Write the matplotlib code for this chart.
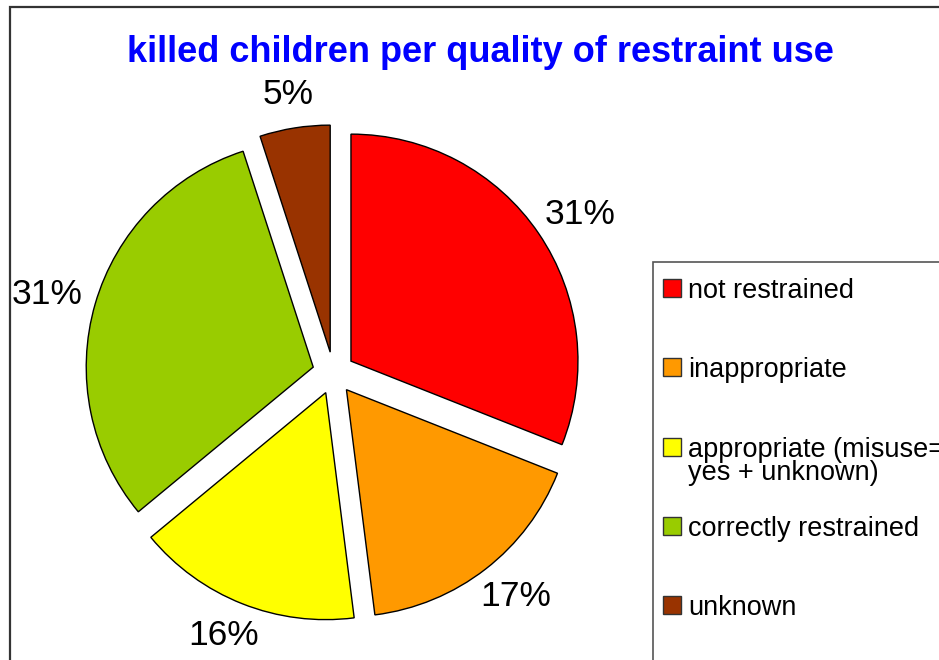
import matplotlib
matplotlib.use('Agg')
import matplotlib.pyplot as plt
from matplotlib.patches import Rectangle
import numpy as np

plt.rcParams['font.family'] = ['Liberation Sans', 'DejaVu Sans']

# data
categories = ['not restrained', 'inappropriate', 'appropriate (misuse=\nyes + unknown)',
              'correctly restrained', 'unknown']
shares = [31, 17, 16, 31, 5]
colors = ['#FF0000', '#FF9900', '#FFFF00', '#99CC00', '#993300']
title = 'killed children per quality of restraint use'

W, H = 939, 660
fig = plt.figure(figsize=(W / 100, H / 100), dpi=100)

# outer chart frame (runs off right/bottom edge)
fig.patches.append(Rectangle((10 / W, -0.2), 1.2, 1.2 - 6.5 / H,
                             transform=fig.transFigure, fill=False,
                             edgecolor='#333333', lw=1.6, zorder=0))

# pie axes: center ~ (333.5, 373) px, radius ~227 px
R = 227
half = 1.2 * R
cx, cy = 333.5, H - 373
ax = fig.add_axes([(cx - half) / W, (cy - half) / H, 2 * half / W, 2 * half / H])

wedges, texts, autotexts = ax.pie(
    shares, colors=colors, startangle=90, counterclock=False,
    explode=[0.093] * len(shares),
    autopct=lambda p: f'{p:.0f}%', pctdistance=1.107,
    wedgeprops=dict(edgecolor='black', linewidth=1.0),
    textprops=dict(fontsize=25.5, color='black'),
    radius=1.0, frame=False)
ax.set_xlim(-1.2, 1.2)
ax.set_ylim(-1.2, 1.2)
ax.set_aspect('equal')
ax.axis('off')

# push each label outward by part of its box, like Excel does
fig.canvas.draw()
rend = fig.canvas.get_renderer()
for t, w in zip(autotexts, wedges):
    ang = np.deg2rad((w.theta1 + w.theta2) / 2)
    bb = t.get_window_extent(rend)
    p = ax.transData.transform(t.get_position())
    p = p + np.array([np.cos(ang) * bb.width * 0.36, np.sin(ang) * bb.height * 0.3])
    t.set_position(ax.transData.inverted().transform(p))

fig.text(480 / W, 1 - 52 / H, title, color='#0000FF', fontsize=26,
         fontweight='bold', ha='center', va='center')

# legend box (runs off right/bottom edge)
fig.patches.append(Rectangle((653 / W, -0.2), 1.0, 0.2 + 1 - 262 / H,
                             transform=fig.transFigure, fill=False,
                             edgecolor='#555555', lw=1.2, zorder=1))
sq = 18
y0, step = 288, 79.3
for i, (lab, col) in enumerate(zip(categories, colors)):
    yc = y0 + step * i
    fig.patches.append(Rectangle((663 / W, 1 - (yc + sq / 2) / H), sq / W, sq / H,
                                 transform=fig.transFigure, facecolor=col,
                                 edgecolor='#333333', lw=1.0, zorder=2))
    fig.text(688 / W, 1 - (yc - 10) / H, lab, fontsize=19.5, ha='left', va='top',
             linespacing=0.88)

fig.savefig('out.png', dpi=100)
